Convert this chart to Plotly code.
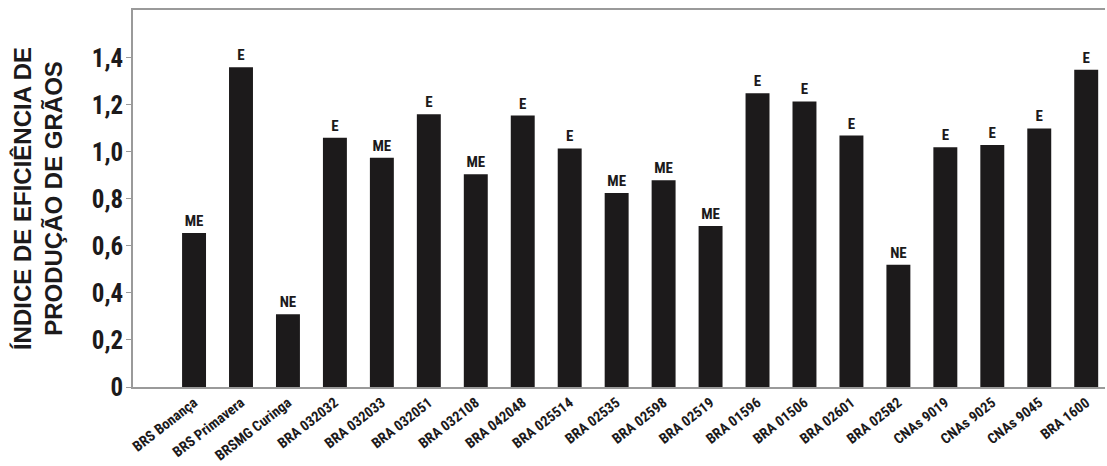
import plotly.graph_objects as go

categories = ["BRS Bonança", "BRS Primavera", "BRSMG Curinga", "BRA 032032", "BRA 032033",
              "BRA 032051", "BRA 032108", "BRA 042048", "BRA 025514", "BRA 02535",
              "BRA 02598", "BRA 02519", "BRA 01596", "BRA 01506", "BRA 02601",
              "BRA 02582", "CNAs 9019", "CNAs 9025", "CNAs 9045", "BRA 1600"]
values = [0.655, 1.36, 0.31, 1.06, 0.975, 1.16, 0.905, 1.155, 1.015, 0.825,
          0.88, 0.685, 1.25, 1.215, 1.07, 0.52, 1.02, 1.03, 1.10, 1.35]
classes = ["ME", "E", "NE", "E", "ME", "E", "ME", "E", "E", "ME",
           "ME", "ME", "E", "E", "E", "NE", "E", "E", "E", "E"]
tick_vals = [0, 0.2, 0.4, 0.6, 0.8, 1.0, 1.2, 1.4]
tick_text = ["0", "0,2", "0,4", "0,6", "0,8", "1,0", "1,2", "1,4"]

FONT = "Liberation Sans Narrow, Roboto Condensed, DejaVu Sans Condensed, Arial Narrow, sans-serif"

x = list(range(len(categories)))
fig = go.Figure(go.Bar(
    x=x, y=values, width=0.51,
    marker=dict(color="#1c1a1b", line=dict(width=0)),
    text=classes, textposition="outside", cliponaxis=False,
    textfont=dict(family=FONT, size=15, color="#1c1a1b", weight="bold"),
))

fig.update_layout(
    width=1107, height=466,
    margin=dict(l=133, r=2, t=10, b=79),
    paper_bgcolor="white", plot_bgcolor="white",
    showlegend=False,
    xaxis=dict(
        range=[-1.3, 19.4], tickmode="array", tickvals=x, ticktext=categories,
        tickangle=-38, showgrid=False, zeroline=False, automargin=False,
        showline=True, linecolor="#9a9a9a", linewidth=1.5, mirror=True, ticks="",
        tickfont=dict(family=FONT, size=14.5, color="#1c1a1b", weight="bold"),
    ),
    yaxis=dict(
        range=[0, 1.604], tickmode="array", tickvals=tick_vals, ticktext=tick_text,
        showgrid=False, zeroline=False, automargin=False,
        showline=True, linecolor="#9a9a9a", linewidth=1.5,
        ticks="outside", ticklen=5, tickcolor="#9a9a9a", tickwidth=1,
        ticklabelstandoff=-2,
        tickfont=dict(family=FONT, size=25, color="#1c1a1b", weight="bold"),
        title=dict(text="ÍNDICE DE EFICIÊNCIA DE<br>PRODUÇÃO DE GRÃOS",
                   font=dict(family="Liberation Sans, Arial, sans-serif", size=24,
                             color="#1c1a1b", weight="bold"),
                   standoff=22),
    ),
)

fig.write_html("out.html", config={"displayModeBar": False},
               post_script="document.body.style.margin='0';")
